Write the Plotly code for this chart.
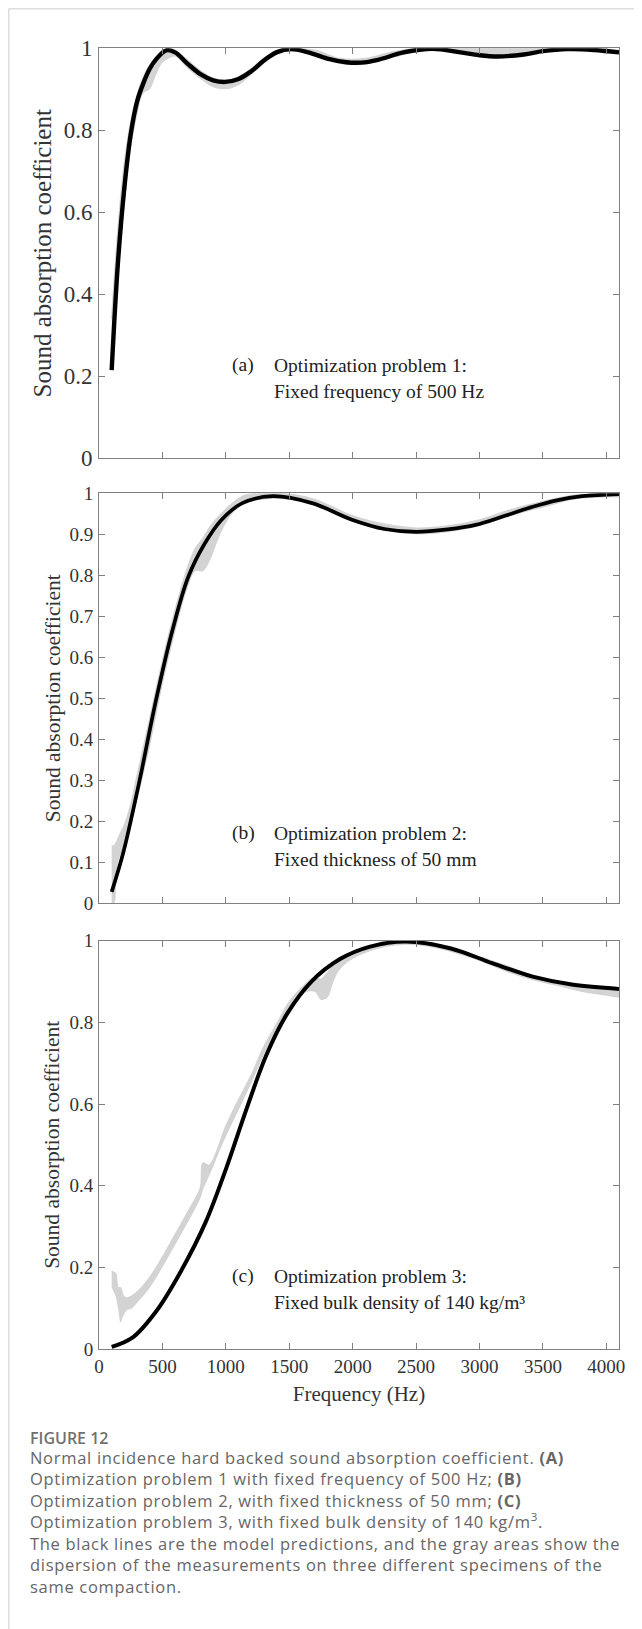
import plotly.graph_objects as go

# ---------------- data ----------------
# Panel (a): model prediction
fa_model = [100, 150, 200, 250, 300, 350, 400, 450, 530, 600, 700, 800, 900, 995,
            1100, 1200, 1300, 1400, 1515, 1650, 1800, 1950, 2065, 2200, 2400, 2630,
            2850, 3000, 3145, 3350, 3500, 3695, 3900, 4100]
a_model = [0.215, 0.48, 0.66, 0.79, 0.87, 0.915, 0.95, 0.973, 0.995, 0.99, 0.962,
           0.937, 0.922, 0.918, 0.925, 0.944, 0.97, 0.99, 0.998, 0.99, 0.975, 0.966,
           0.965, 0.972, 0.99, 0.999, 0.99, 0.983, 0.98, 0.985, 0.993, 0.998, 0.996, 0.99]
# Panel (a): measurement dispersion (min / max)
fa_meas = [100, 150, 200, 250, 300, 350, 400, 450, 500, 550, 600, 700, 800, 900, 1000,
           1100, 1200, 1300, 1400, 1500, 1700, 1900, 2100, 2300, 2500, 2700, 2900,
           3100, 3300, 3500, 3700, 3900, 4100]
a_low = [0.29, 0.45, 0.61, 0.75, 0.835, 0.89, 0.90, 0.935, 0.965, 0.975, 0.98, 0.95, 0.925,
         0.905, 0.90, 0.91, 0.935, 0.962, 0.985, 0.992, 0.983, 0.962, 0.96, 0.975, 0.99,
         0.995, 0.985, 0.978, 0.982, 0.99, 0.995, 0.993, 0.99]
a_high = [0.34, 0.56, 0.72, 0.82, 0.885, 0.93, 0.958, 0.978, 0.992, 1.0, 0.995, 0.97, 0.945,
          0.927, 0.922, 0.93, 0.95, 0.975, 0.995, 1.0, 0.995, 0.975, 0.975, 0.99, 1.0,
          1.0, 1.0, 1.0, 1.0, 1.0, 1.0, 1.0, 0.995]

# Panel (b): model prediction
fb_model = [100, 190, 320, 450, 580, 705, 835, 965, 1130, 1370, 1680, 2000, 2250, 2500,
            2750, 2970, 3200, 3420, 3600, 3810, 4100]
b_model = [0.028, 0.122, 0.30, 0.496, 0.667, 0.797, 0.878, 0.935, 0.976, 0.993, 0.976,
           0.935, 0.913, 0.906, 0.912, 0.923, 0.945, 0.967, 0.982, 0.993, 0.998]
# Panel (b): measurement dispersion
fb_meas = [100, 120, 140, 160, 200, 250, 300, 400, 500, 600, 700, 760, 820, 880, 950,
           1050, 1150, 1300, 1500, 1700, 2000, 2250, 2500, 2750, 3000, 3250, 3500,
           3750, 4000, 4100]
b_low = [0.0, 0.0, 0.08, 0.11, 0.14, 0.19, 0.25, 0.38, 0.53, 0.66, 0.77, 0.81, 0.81,
         0.84, 0.895, 0.95, 0.975, 0.985, 0.985, 0.97, 0.93, 0.91, 0.90, 0.905, 0.92,
         0.945, 0.965, 0.985, 0.99, 0.99]
b_high = [0.14, 0.14, 0.15, 0.165, 0.19, 0.24, 0.31, 0.45, 0.59, 0.715, 0.82, 0.865, 0.89,
          0.92, 0.945, 0.975, 0.995, 1.0, 0.998, 0.985, 0.945, 0.925, 0.915, 0.92, 0.935,
          0.96, 0.98, 0.995, 0.998, 0.998]

# Panel (c): model prediction
fc_model = [100, 260, 450, 645, 840, 1000, 1160, 1320, 1485, 1675, 1900, 2130, 2420,
            2775, 3100, 3420, 3740, 4100]
c_model = [0.005, 0.027, 0.092, 0.19, 0.31, 0.44, 0.585, 0.72, 0.822, 0.90, 0.955,
           0.985, 0.998, 0.981, 0.945, 0.912, 0.892, 0.882]
# Panel (c): measurement dispersion
fc_meas = [100, 130, 150, 170, 190, 220, 260, 320, 400, 500, 600, 700, 800, 820, 870,
           1000, 1100, 1200, 1300, 1400, 1500, 1600, 1700, 1750, 1800, 1850, 1900,
           2000, 2200, 2400, 2600, 2800, 3000, 3200, 3400, 3600, 3800, 4000, 4100]
c_low = [0.15, 0.13, 0.10, 0.065, 0.08, 0.095, 0.10, 0.12, 0.15, 0.20, 0.255, 0.31,
         0.37, 0.39, 0.425, 0.52, 0.585, 0.65, 0.72, 0.78, 0.835, 0.87, 0.875, 0.855,
         0.86, 0.90, 0.93, 0.955, 0.98, 0.99, 0.985, 0.97, 0.95, 0.925, 0.905, 0.89,
         0.875, 0.865, 0.86]
c_high = [0.19, 0.185, 0.15, 0.15, 0.13, 0.125, 0.13, 0.145, 0.175, 0.225, 0.28, 0.335,
          0.395, 0.455, 0.45, 0.545, 0.61, 0.67, 0.74, 0.795, 0.85, 0.885, 0.91, 0.905,
          0.92, 0.94, 0.955, 0.97, 0.99, 0.998, 0.995, 0.98, 0.96, 0.94, 0.915, 0.90,
          0.89, 0.88, 0.875]

x_ticks = [0, 500, 1000, 1500, 2000, 2500, 3000, 3500, 4000]
ya_ticks = [0, 0.2, 0.4, 0.6, 0.8, 1]
yb_ticks = [0, 0.1, 0.2, 0.3, 0.4, 0.5, 0.6, 0.7, 0.8, 0.9, 1]
yc_ticks = [0, 0.2, 0.4, 0.6, 0.8, 1]

y_title = "Sound absorption coefficient"
x_title = "Frequency (Hz)"
panel_tags = ["(a)", "(b)", "(c)"]
panel_line1 = ["Optimization problem 1:", "Optimization problem 2:", "Optimization problem 3:"]
panel_line2 = ["Fixed frequency of 500 Hz", "Fixed thickness of 50 mm",
               "Fixed bulk density of 140 kg/m³"]

caption_head = "FIGURE 12"
caption_lines = [
    "Normal incidence hard backed sound absorption coefficient. <b>(A)</b>",
    "Optimization problem 1 with fixed frequency of 500 Hz; <b>(B)</b>",
    "Optimization problem 2, with fixed thickness of 50 mm; <b>(C)</b>",
    "Optimization problem 3, with fixed bulk density of 140 kg/m<sup>3</sup>.",
    "The black lines are the model predictions, and the gray areas show the",
    "dispersion of the measurements on three different specimens of the",
    "same compaction.",
]

# ---------------- figure ----------------
OFF = 8                      # default page margin of the html body
W, H = 642 - OFF, 1629 - OFF
ML, MR, MT, MB = 99 - OFF, 23, 48 - OFF, 280
PW, PH = W - ML - MR, H - MT - MB
bottom_fig = H - MB


def py(ypage):               # page pixel -> paper fraction
    return (bottom_fig - (ypage - OFF)) / PH


def px(xpage):
    return (xpage - OFF - ML) / PW


SERIF = "Liberation Serif, Times New Roman, serif"
GREY_BAND = "#d3d3d3"
AXC = "#808080"
TXT = "#333333"

fig = go.Figure()

panels = [
    (fa_meas, a_low, a_high, fa_model, a_model, "x", "y"),
    (fb_meas, b_low, b_high, fb_model, b_model, "x2", "y2"),
    (fc_meas, c_low, c_high, fc_model, c_model, "x3", "y3"),
]
model_widths = [4.4, 3.7, 4.0]
for i, (fm, lo, hi, fmod, mod, xa, ya) in enumerate(panels):
    fig.add_trace(go.Scatter(x=fm, y=lo, mode="lines", line=dict(width=0, shape="spline"),
                             xaxis=xa, yaxis=ya, showlegend=False, hoverinfo="skip"))
    fig.add_trace(go.Scatter(x=fm, y=hi, mode="lines", fill="tonexty", fillcolor=GREY_BAND,
                             line=dict(width=1.5, color=GREY_BAND, shape="spline"),
                             xaxis=xa, yaxis=ya, showlegend=False, hoverinfo="skip"))
    fig.add_trace(go.Scatter(x=fmod, y=mod, mode="lines",
                             line=dict(width=model_widths[i], color="#000000", shape="spline"),
                             xaxis=xa, yaxis=ya, showlegend=False))

domains = [[py(458.3), py(48.3)], [py(903.3), py(493.3)], [0.0, py(940.7)]]
ytick_sets = [ya_ticks, yb_ticks, yc_ticks]
tick_sizes = [23, 19, 19]
title_sizes = [25, 21.5, 21.5]
title_standoff = [4, 2, 3]

common_x = dict(range=[0, 4100], tickvals=x_ticks, ticks="inside", ticklen=6,
                tickcolor=AXC, showline=True, linecolor=AXC, linewidth=1, mirror="ticks",
                showgrid=False, zeroline=False,
                tickfont=dict(family=SERIF, size=19, color=TXT))
common_y = dict(range=[0, 1], ticks="inside", ticklen=6, tickcolor=AXC, showline=True,
                linecolor=AXC, linewidth=1, mirror="ticks", showgrid=False, zeroline=False)

layout = dict(width=W, height=H, margin=dict(l=ML, r=MR, t=MT, b=MB, autoexpand=False),
              paper_bgcolor="white", plot_bgcolor="white", showlegend=False)
names = ["", "2", "3"]
for i in range(3):
    xa = dict(common_x)
    xa["anchor"] = "y" + names[i]
    xa["showticklabels"] = (i == 2)
    if i == 2:
        xa["title"] = dict(text=x_title, font=dict(family=SERIF, size=21, color=TXT),
                           standoff=10)
    ya = dict(common_y)
    ya["anchor"] = "x" + names[i]
    ya["domain"] = domains[i]
    ya["tickvals"] = ytick_sets[i]
    ya["tickfont"] = dict(family=SERIF, size=tick_sizes[i], color=TXT)
    ya["ticklabelstandoff"] = 1
    ya["title"] = dict(text=y_title, font=dict(family=SERIF, size=title_sizes[i], color=TXT),
                       standoff=title_standoff[i])
    layout["xaxis" + names[i]] = xa
    layout["yaxis" + names[i]] = ya

fig.update_layout(**layout)

# panel annotations
ann_y = [(365, 391), (833.3, 860), (1276, 1302)]
for i in range(3):
    y1, y2 = ann_y[i]
    for txt, xx, yy in [(panel_tags[i], 230, y1), (panel_line1[i], 272, y1),
                        (panel_line2[i], 272, y2)]:
        fig.add_annotation(x=px(xx), y=py(yy), xref="paper", yref="paper", text=txt,
                           showarrow=False, xanchor="left", yanchor="middle",
                           font=dict(family=SERIF, size=19.5, color="#222222"))

# caption
CAP_FONT = "Open Sans, Noto Sans, sans-serif"
CAP_X = 28
fig.add_annotation(x=px(CAP_X), y=py(1438), xref="paper", yref="paper", text=caption_head,
                   showarrow=False, xanchor="left", yanchor="middle",
                   font=dict(family=CAP_FONT, size=16, color="#707070", weight=600))
cap_text = "<br>".join('<span style="letter-spacing:0.7px">' + t + "</span>"
                       for t in caption_lines)
fig.add_annotation(x=px(CAP_X), y=py(1444), xref="paper", yref="paper", text=cap_text,
                   showarrow=False, xanchor="left", yanchor="top", align="left",
                   font=dict(family=CAP_FONT, size=16.5, color="#666666"))

# card border (decoration)
fig.add_shape(type="line", xref="paper", yref="paper", x0=px(8.75), x1=px(8.75),
              y0=py(8.75), y1=py(1629), line=dict(color="#dddddd", width=1.5))
fig.add_shape(type="line", xref="paper", yref="paper", x0=px(8.75), x1=px(642),
              y0=py(8.75), y1=py(8.75), line=dict(color="#dddddd", width=1.5))

fig.write_html("out.html")
